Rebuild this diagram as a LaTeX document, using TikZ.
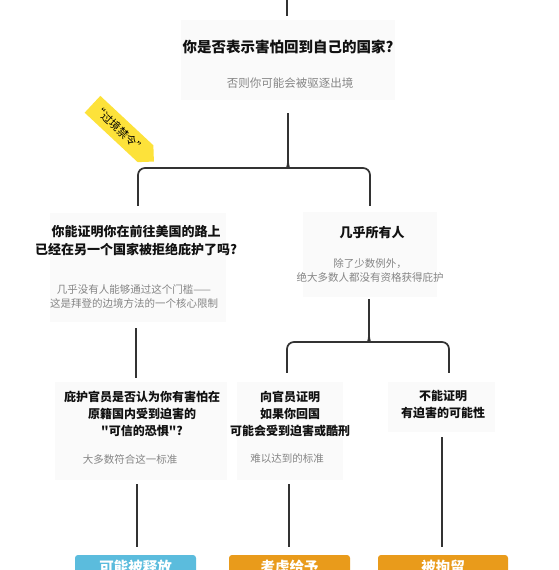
\documentclass[tikz,border=0pt]{standalone}
\usepackage{fontspec}
\usetikzlibrary{shapes.symbols}
\newfontfamily\cjk{Noto Sans CJK SC}
\definecolor{panelgray}{HTML}{FAFAFA}
\definecolor{subgray}{HTML}{858585}
\definecolor{ttlblack}{HTML}{111111}
\definecolor{conngray}{HTML}{333333}
\definecolor{outblue}{HTML}{5BBCDD}
\definecolor{outorange}{HTML}{E99B1B}
\definecolor{banyellow}{HTML}{FDE23A}
\begin{document}
\begin{tikzpicture}[x=1pt,y=-1pt,
  panel/.style={rectangle, fill=panelgray, draw=none, inner sep=0pt},
  ttl/.style={font=\cjk\bfseries\fontsize{13}{18}\selectfont, align=center, text=ttlblack, inner sep=0pt},
  ttlsm/.style={font=\cjk\bfseries\fontsize{12}{17}\selectfont, align=center, text=ttlblack, inner sep=0pt},
  sub/.style={font=\cjk\fontsize{10.5}{14}\selectfont, align=center, text=subgray, inner sep=0pt},
  conn/.style={draw=conngray, line width=1.7pt},
  outcome/.style={rectangle, rounded corners=3pt, text=white, font=\cjk\bfseries\fontsize{14.5}{16}\selectfont, minimum height=24pt, inner sep=0pt},
  banner/.style={shape=signal, signal to=east, signal pointer angle=90, fill=banyellow, draw=none, minimum width=84pt, minimum height=23pt, inner sep=0pt, font=\cjk\fontsize{11}{12}\selectfont, text=black}
]
\useasboundingbox (0,0) rectangle (559,570);
\clip (0,0) rectangle (559,570);
\fill[white] (0,0) rectangle (559,570);

% panels
\node[panel, minimum width=214pt, minimum height=80pt] (A) at (288,60) {};
\node[panel, minimum width=176pt, minimum height=109pt] (B) at (138,267.5) {};
\node[panel, minimum width=134pt, minimum height=85pt] (C) at (370,254.5) {};
\node[panel, minimum width=172pt, minimum height=98pt] (D) at (141,431) {};
\node[panel, minimum width=106pt, minimum height=98pt] (E) at (289.5,431) {};
\node[panel, minimum width=107pt, minimum height=50pt] (F) at (441.5,407) {};

% texts
\node[ttl, font=\cjk\bfseries\fontsize{14.5}{18}\selectfont] (At) at (288,47) {你是否表示害怕回到自己的国家?};
\node[sub, font=\cjk\fontsize{11.5}{14}\selectfont] (As) at (290,83) {否则你可能会被驱逐出境};

\node[ttl] (Bt) at (136,241) {你能证明你在前往美国的路上\\已经在另一个国家被拒绝庇护了吗?};
\node[sub] (Bs) at (134,296) {几乎没有人能够通过这个门槛——\\这是拜登的边境方法的一个核心限制};

\node[ttl] (Ct) at (372,233) {几乎所有人};
\node[sub] (Cs) at (370,270) {除了少数例外，\\绝大多数人都没有资格获得庇护};

\node[ttlsm] (Dt) at (142,414) {庇护官员是否认为你有害怕在\\原籍国内受到迫害的\\"可信的恐惧"?};
\node[sub] (Ds) at (130,459) {大多数符合这一标准};

\node[ttlsm] (Et) at (290,414) {向官员证明\\如果你回国\\可能会受到迫害或酷刑};
\node[sub] (Es) at (287,459) {难以达到的标准};

\node[ttlsm] (Ft) at (443,404) {不能证明\\有迫害的可能性};

% outcomes
\node[outcome, fill=outblue, minimum width=121pt] (G) at (135.5,567) {可能被释放};
\node[outcome, fill=outorange, minimum width=121pt] (H) at (289.5,567) {考虑给予};
\node[outcome, fill=outorange, minimum width=130pt] (I) at (443,567) {被拘留};

% banner
\node[banner, rotate=-43] (ban) at (119,129) {“过境禁令”};

% connectors
\coordinate (top) at (287,0);
\coordinate (j1) at (288,162);
\coordinate (l1) at (138,168);
\coordinate (r1) at (370,168);
\coordinate (j2) at (369,336);
\coordinate (l2) at (287,342);
\coordinate (r2) at (449,342);
\coordinate (xd) at (136,0);
\coordinate (xg) at (137,0);
\coordinate (xh) at (289,0);
\coordinate (xi) at (442,0);

\draw[conn, shorten >=4pt] (top) -- (top |- A.north);
\draw[conn, shorten <=13pt] (A.south -| j1) -- (j1);
\draw[conn, rounded corners=7pt] (j1) .. controls (288,166) and (286,168) .. (281,168) -- (l1) -- ([yshift=7pt]l1 |- B.north);
\draw[conn, rounded corners=7pt] (j1) .. controls (288,166) and (290,168) .. (295,168) -- (r1) -- ([yshift=6pt]r1 |- C.north);

\draw[conn, shorten <=6pt, shorten >=4pt] (B.south -| xd) -- (D.north -| xd);
\draw[conn, shorten <=2pt] (C.south -| j2) -- (j2);
\draw[conn, rounded corners=7pt] (j2) .. controls (369,340) and (367,342) .. (362,342) -- (l2) -- ([yshift=9pt]l2 |- E.north);
\draw[conn, rounded corners=7pt] (j2) .. controls (369,340) and (371,342) .. (376,342) -- (r2) -- ([yshift=9pt]r2 |- F.north);

\draw[conn, shorten <=4pt, shorten >=8pt] (D.south -| xg) -- (G.north -| xg);
\draw[conn, shorten <=4pt, shorten >=8pt] (E.south -| xh) -- (H.north -| xh);
\draw[conn, shorten <=5pt, shorten >=8pt] (F.south -| xi) -- (I.north -| xi);
\end{tikzpicture}
\end{document}
